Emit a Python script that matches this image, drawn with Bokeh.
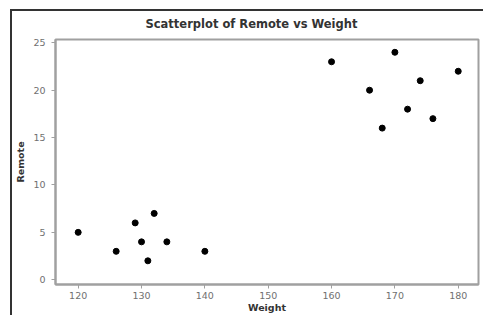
from bokeh.plotting import figure
from bokeh.models import Range1d, FixedTicker, ColumnDataSource
from bokeh.embed import file_html
from bokeh.resources import INLINE

weight = [120, 126, 129, 130, 131, 132, 134, 140, 160, 166, 168, 170, 172, 174, 176, 180]
remote = [5, 3, 6, 4, 2, 7, 4, 3, 23, 20, 16, 24, 18, 21, 17, 22]
x_ticks = [120, 130, 140, 150, 160, 170, 180]
y_ticks = [0, 5, 10, 15, 20, 25]

src = ColumnDataSource(data=dict(weight=weight, remote=remote))

p = figure(
    output_backend="svg", toolbar_location=None,
    frame_width=423, frame_height=245,
    min_border_left=55, min_border_right=5, min_border_top=39, min_border_bottom=30,
    x_range=Range1d(116.42, 183.2), y_range=Range1d(-0.5, 25.35),
    title="Scatterplot of Remote vs Weight",
)
p.border_fill_alpha = 0
p.background_fill_color = "white"
p.styles = {"box-shadow": "inset 10px 9px 0 0 #ffffff, inset 12px 11px 0 0 #333333"}

p.title.text_font = "DejaVu Sans"
p.title.text_font_size = "11.5px"
p.title.text_font_style = "bold"
p.title.text_color = "#333333"
p.title.align = "left"
p.title.offset = 90
p.title.standoff = 17

p.outline_line_color = "#a0a0a0"
p.outline_line_width = 2
p.grid.visible = False

for ax in (p.xaxis[0], p.yaxis[0]):
    ax.axis_line_color = "#a0a0a0"
    ax.axis_line_width = 2
    ax.major_tick_line_color = "#a0a0a0"
    ax.major_tick_in = 0
    ax.major_tick_out = 4
    ax.minor_tick_line_color = None
    ax.major_label_text_font = "DejaVu Sans"
    ax.major_label_text_font_size = "9.5px"
    ax.major_label_text_color = "#707070"
    ax.axis_label_text_font = "DejaVu Sans"
    ax.axis_label_text_font_size = "9.5px"
    ax.axis_label_text_font_style = "bold"
    ax.axis_label_text_color = "#333333"

p.xaxis.ticker = FixedTicker(ticks=x_ticks)
p.yaxis.ticker = FixedTicker(ticks=y_ticks)
p.xaxis.axis_label = "Weight"
p.yaxis.axis_label = "Remote"
p.xaxis.major_label_standoff = 3
p.xaxis.axis_label_standoff = 0
p.yaxis.major_label_standoff = 6
p.yaxis.axis_label_standoff = 4

p.scatter("weight", "remote", source=src, size=6, color="black")

open("out.html", "w").write(file_html(p, INLINE))
